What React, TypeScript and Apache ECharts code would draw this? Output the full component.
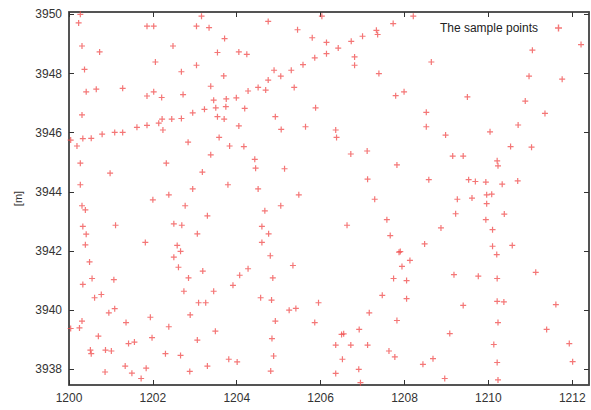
import React, { useEffect, useRef } from "react";
import * as echarts from "echarts";

const xTicks = [1200, 1202, 1204, 1206, 1208, 1210, 1212];
const yTicks = [3938, 3940, 3942, 3944, 3946, 3948, 3950];
const seriesName = "The sample points";

const pointsX = [
  1200.27, 1200.23, 1200.31, 1200.73, 1200.37, 1200.41, 1200.65, 1201.28, 1200.31, 1200.33,
  1200.53, 1200.79, 1201.09, 1201.28, 1201.62, 1201.86, 1202.14, 1202.24, 1202.22, 1202.45,
  1202.68, 1202.95, 1201.86, 1202.02, 1202.21, 1202.72, 1202.68, 1202.06, 1202.48, 1203.04,
  1201.86, 1202.02, 1203.04, 1203.16, 1203.34, 1204.75, 1206.03, 1203.71, 1203.54, 1204.05,
  1204.24, 1203.69, 1205.45, 1205.80, 1206.14, 1206.73, 1207.00, 1207.33, 1207.36, 1206.42,
  1206.14, 1205.86, 1205.58, 1205.30, 1204.89, 1205.05, 1204.75, 1204.51, 1204.69, 1204.27,
  1205.37, 1206.81, 1206.81, 1207.39, 1203.38, 1203.45, 1203.75, 1203.99, 1203.23, 1203.50,
  1203.74, 1204.19, 1203.54, 1203.70, 1204.92, 1205.88, 1204.05, 1205.06, 1205.64, 1206.36,
  1203.58, 1206.38, 1207.73, 1208.21, 1212.21, 1211.05, 1208.64, 1210.97, 1211.76, 1207.79,
  1207.99, 1209.50, 1210.88, 1208.52, 1211.35, 1208.52, 1210.71, 1208.98, 1210.04, 1200.04,
  1200.19, 1202.84, 1200.27, 1202.32, 1200.98, 1200.27, 1202.95, 1202.00, 1202.38, 1200.31,
  1200.39, 1202.77, 1200.33, 1201.11, 1202.50, 1202.69, 1200.41, 1203.06, 1200.39, 1201.82,
  1202.58, 1202.66, 1202.50, 1202.61, 1200.49, 1200.33, 1200.55, 1201.07, 1200.61, 1200.77,
  1200.95, 1201.09, 1200.31, 1200.25, 1200.04, 1201.36, 1201.94, 1200.70, 1201.98, 1202.38,
  1202.85, 1202.74, 1203.09, 1202.89, 1203.06, 1201.42, 1201.56, 1200.51, 1200.53, 1200.87,
  1201.01, 1202.30, 1202.66, 1201.34, 1201.84, 1200.86, 1201.50, 1201.72, 1202.88, 1203.83,
  1204.17, 1203.38, 1204.43, 1204.45, 1205.14, 1206.72, 1207.11, 1203.18, 1203.79, 1204.51,
  1205.48, 1207.12, 1207.29, 1204.67, 1205.05, 1203.30, 1204.60, 1204.76, 1204.60, 1206.63,
  1207.58, 1204.80, 1205.34, 1204.27, 1207.66, 1210.53, 1211.03, 1209.15, 1209.40, 1207.82,
  1210.21, 1210.23, 1208.58, 1209.53, 1209.69, 1209.94, 1210.33, 1210.70, 1209.96, 1210.08,
  1209.26, 1209.61, 1209.96, 1209.22, 1210.38, 1209.94, 1208.87, 1210.10, 1208.48, 1210.10,
  1210.57, 1210.20, 1207.87, 1207.90, 1208.13, 1207.94, 1203.19, 1204.07, 1204.86, 1203.91,
  1203.45, 1203.26, 1204.57, 1204.83, 1205.25, 1205.41, 1205.95, 1207.47, 1207.16, 1204.92,
  1205.86, 1203.49, 1204.84, 1206.50, 1206.55, 1206.92, 1206.36, 1206.72, 1207.12, 1207.63,
  1204.88, 1203.81, 1204.01, 1203.30, 1204.81, 1206.52, 1206.36, 1206.91, 1206.95, 1207.74,
  1208.05, 1209.18, 1209.76, 1210.21, 1211.13, 1208.05, 1209.40, 1210.21, 1210.37, 1211.61,
  1207.82, 1210.23, 1209.08, 1211.39, 1210.13, 1211.93, 1207.77, 1208.68, 1208.44, 1210.21,
  1212.01, 1208.96, 1210.23,
];

const pointsY = [
  3950.0, 3949.71, 3948.93, 3948.73, 3948.14, 3947.38, 3947.47, 3947.5, 3946.6, 3945.8,
  3945.81, 3945.95, 3946.01, 3946.01, 3946.18, 3946.25, 3946.32, 3946.09, 3946.46, 3946.46,
  3946.48, 3946.67, 3947.24, 3947.38, 3947.19, 3947.29, 3948.06, 3948.39, 3948.93, 3948.28,
  3949.6, 3949.6, 3949.6, 3949.94, 3949.55, 3949.76, 3949.94, 3949.18, 3948.71, 3948.73,
  3948.65, 3947.92, 3949.48, 3949.21, 3949.05, 3949.09, 3949.26, 3949.46, 3949.32, 3948.86,
  3948.67, 3948.53, 3948.3, 3948.11, 3948.11, 3947.91, 3947.78, 3947.53, 3947.44, 3947.41,
  3947.53, 3948.56, 3948.28, 3948.0, 3947.57, 3947.1, 3947.14, 3947.18, 3946.79, 3946.84,
  3946.88, 3946.82, 3946.54, 3946.46, 3946.54, 3946.84, 3946.23, 3946.11, 3946.2, 3946.09,
  3945.84, 3945.84, 3949.69, 3949.94, 3948.98, 3948.79, 3948.39, 3947.91, 3947.81, 3947.25,
  3947.38, 3947.21, 3947.07, 3946.69, 3946.65, 3946.2, 3946.26, 3945.92, 3946.03, 3945.75,
  3945.55, 3945.68, 3944.97, 3944.97, 3944.63, 3944.24, 3944.1, 3943.73, 3943.9, 3943.53,
  3943.39, 3943.53, 3942.83, 3942.87, 3942.92, 3942.87, 3942.57, 3942.58, 3942.21, 3942.29,
  3942.19, 3941.99, 3941.79, 3941.45, 3941.63, 3940.87, 3941.07, 3941.03, 3940.42, 3940.53,
  3939.91, 3940.05, 3939.63, 3939.4, 3939.38, 3939.58, 3939.76, 3939.12, 3939.07, 3939.44,
  3941.09, 3940.64, 3940.25, 3939.84, 3938.99, 3938.87, 3938.92, 3938.65, 3938.53, 3938.65,
  3938.62, 3938.53, 3938.47, 3938.11, 3938.04, 3937.91, 3937.87, 3937.69, 3937.93, 3945.55,
  3945.53, 3945.25, 3945.1, 3944.8, 3944.78, 3945.28, 3945.38, 3944.67, 3944.24, 3944.1,
  3943.9, 3944.43, 3943.75, 3943.36, 3943.53, 3943.19, 3942.83, 3942.58, 3942.29, 3942.87,
  3943.06, 3941.84, 3941.51, 3941.4, 3942.52, 3945.53, 3945.51, 3945.21, 3945.21, 3944.91,
  3945.05, 3944.88, 3944.41, 3944.41, 3944.35, 3944.33, 3944.26, 3944.37, 3943.9, 3943.92,
  3943.75, 3943.79, 3943.6, 3943.26, 3943.25, 3943.06, 3942.78, 3942.72, 3942.24, 3942.16,
  3942.19, 3941.88, 3941.96, 3941.98, 3941.68, 3941.48, 3941.32, 3941.18, 3941.09, 3940.84,
  3940.64, 3940.25, 3940.42, 3940.34, 3940.0, 3940.06, 3940.25, 3940.5, 3939.91, 3939.63,
  3939.58, 3939.29, 3939.04, 3939.18, 3939.2, 3939.35, 3938.82, 3938.82, 3938.82, 3938.62,
  3938.45, 3938.34, 3938.25, 3938.11, 3937.94, 3938.34, 3937.86, 3938.0, 3937.55, 3941.07,
  3941.0, 3941.2, 3941.15, 3941.07, 3941.28, 3940.39, 3940.16, 3940.3, 3940.28, 3940.19,
  3939.65, 3939.58, 3939.21, 3939.35, 3938.84, 3938.87, 3938.42, 3938.36, 3938.17, 3938.23,
  3938.26, 3937.69, 3937.64,
];

const PLUS = "path://M2,0L3,0L3,2L5,2L5,3L3,3L3,5L2,5L2,3L0,3L0,2L2,2Z";
const FONT = "Liberation Sans, Arial, sans-serif";
const AXIS_COLOR = "#4a4a4a";
const LABEL_COLOR = "#333";
const MARK_COLOR = "#f04848";

export default function App() {
  const ref = useRef<HTMLDivElement>(null);
  useEffect(() => {
    if (!ref.current) return;
    const chart = echarts.init(ref.current, null, { renderer: "svg" });
    const data = pointsX.map((x, i) => [x, pointsY[i]]);
    const axisLine = { show: true, onZero: false, lineStyle: { color: AXIS_COLOR, width: 1.5 } };
    const tick = (vals: number[]) => ({
      show: true,
      inside: true,
      length: 5,
      customValues: vals,
      lineStyle: { color: "#333", width: 1 },
    });
    const fmt = (v: number) => String(Math.round(v));
    chart.setOption({
      animation: false,
      backgroundColor: "#fff",
      grid: {
        left: 69,
        right: 2,
        top: 12,
        bottom: 25,
        show: true,
        borderColor: AXIS_COLOR,
        borderWidth: 1.5,
        backgroundColor: "transparent",
      },
      legend: {
        data: [{ name: seriesName, icon: PLUS }],
        right: 24,
        top: 17,
        align: "right",
        itemWidth: 7,
        itemHeight: 7,
        textStyle: { fontFamily: FONT, fontSize: 12, color: "#222", padding: [0, 12, 0, 0] },
        itemStyle: { color: MARK_COLOR, opacity: 0.75 },
      },
      xAxis: [
        {
          type: "value",
          min: 1200,
          max: 1212.4,
          position: "bottom",
          axisLine,
          axisTick: tick(xTicks),
          splitLine: { show: false },
          axisLabel: {
            customValues: xTicks,
            formatter: fmt,
            fontFamily: FONT,
            fontSize: 12,
            color: LABEL_COLOR,
            margin: 7,
          },
        },
        {
          type: "value",
          min: 1200,
          max: 1212.4,
          position: "top",
          axisLine,
          axisTick: tick(xTicks),
          splitLine: { show: false },
          axisLabel: { show: false },
        },
      ],
      yAxis: [
        {
          type: "value",
          min: 3937.47,
          max: 3950.08,
          position: "left",
          name: "[m]",
          nameLocation: "middle",
          nameGap: 46,
          nameTextStyle: { fontFamily: FONT, fontSize: 11, color: LABEL_COLOR },
          axisLine,
          axisTick: tick(yTicks),
          splitLine: { show: false },
          axisLabel: {
            customValues: yTicks,
            formatter: fmt,
            fontFamily: FONT,
            fontSize: 12,
            color: LABEL_COLOR,
            margin: 7,
          },
        },
        {
          type: "value",
          min: 3937.47,
          max: 3950.08,
          position: "right",
          axisLine,
          axisTick: tick(yTicks),
          splitLine: { show: false },
          axisLabel: { show: false },
        },
      ],
      series: [
        {
          name: seriesName,
          type: "scatter",
          data,
          symbol: PLUS,
          symbolSize: 6,
          itemStyle: { color: MARK_COLOR, opacity: 0.75 },
        },
      ],
    });
    return () => chart.dispose();
  }, []);
  return (
    <div
      ref={ref}
      style={{ position: "fixed", left: 0, top: 0, width: 591, height: 410, background: "#fff" }}
    />
  );
}
